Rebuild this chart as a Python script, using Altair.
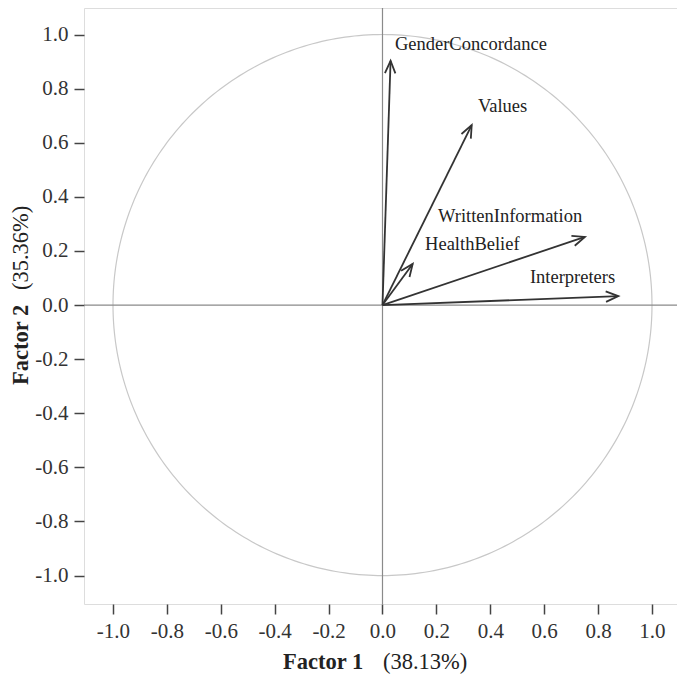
import altair as alt
import pandas as pd
import numpy as np

# Loadings (factor 1, factor 2)
variables = ["GenderConcordance", "Values", "WrittenInformation", "HealthBelief", "Interpreters"]
f1 = [0.030, 0.331, 0.751, 0.112, 0.875]
f2 = [0.903, 0.665, 0.252, 0.152, 0.033]
# label anchor positions (left edge, vertical middle) in factor units
label_x = [0.046, 0.354, 0.206, 0.158, 0.547]
label_y = [0.965, 0.736, 0.329, 0.225, 0.104]

ticks = [-1.0, -0.8, -0.6, -0.4, -0.2, 0.0, 0.2, 0.4, 0.6, 0.8, 1.0]
x_title_bold, x_title_rest = "Factor 1", "(38.13%)"
y_title_bold, y_title_rest = "Factor 2", "(35.36%)"

xdom = [-1.1076, 1.0928]
ydom = [-1.105, 1.098]
W, H = 593, 596
FONT = "Liberation Serif"

arrows = pd.DataFrame({"var": variables, "f1": f1, "f2": f2,
                       "x0": [0.0] * 5, "y0": [0.0] * 5})
arrows["angle"] = (90 - np.degrees(np.arctan2(arrows["f2"], arrows["f1"]))) % 360
labels = pd.DataFrame({"var": variables, "lx": label_x, "ly": label_y})

t = np.linspace(0, 2 * np.pi, 361)
circle = pd.DataFrame({"cx": np.cos(t), "cy": np.sin(t), "i": np.arange(361)})

xs = alt.Scale(domain=xdom, nice=False, zero=False)
ys = alt.Scale(domain=ydom, nice=False, zero=False)

lab_expr = "(datum.value < 0 ? '-' : '') + format(abs(datum.value), '.1f')"
xaxis = alt.Axis(values=ticks, labelExpr=lab_expr, title=None, domain=False, grid=False,
                 tickSize=10, tickColor="#444", tickWidth=1.5, labelPadding=6,
                 labelFont=FONT, labelFontSize=21, labelColor="#333")
yaxis = alt.Axis(values=ticks, labelExpr=lab_expr, title=None, domain=False, grid=False,
                 tickSize=10, tickColor="#444", tickWidth=1.5, labelPadding=6,
                 labelFont=FONT, labelFontSize=21, labelColor="#333")

base_circle = alt.Chart(circle).mark_line(color="#c8c8c8", strokeWidth=1.2).encode(
    x=alt.X("cx:Q", scale=xs, axis=xaxis),
    y=alt.Y("cy:Q", scale=ys, axis=yaxis),
    order="i:Q",
)

cross = pd.DataFrame({"v": [0.0]})
vline = alt.Chart(cross).mark_rule(color="#8a8a8a", strokeWidth=1.2).encode(x=alt.X("v:Q", scale=xs))
hline = alt.Chart(cross).mark_rule(color="#8a8a8a", strokeWidth=1.2).encode(y=alt.Y("v:Q", scale=ys))

shafts = alt.Chart(arrows).mark_rule(color="#333", strokeWidth=1.8).encode(
    x=alt.X("x0:Q", scale=xs), y=alt.Y("y0:Q", scale=ys),
    x2="f1:Q", y2="f2:Q",
)
heads = alt.Chart(arrows).mark_point(
    shape="M-0.42,1L0,0L0.42,1", filled=False, color="#333", strokeWidth=1.8,
    size=620, opacity=1,
).encode(
    x=alt.X("f1:Q", scale=xs), y=alt.Y("f2:Q", scale=ys),
    angle=alt.Angle("angle:Q", scale=None),
)

texts = alt.Chart(labels).mark_text(
    align="left", baseline="middle", font=FONT, fontSize=18.5, color="#222"
).encode(
    x=alt.X("lx:Q", scale=xs), y=alt.Y("ly:Q", scale=ys), text="var:N"
)

def tmark(txt, x, y, bold, angle=0):
    return alt.Chart(pd.DataFrame({"t": [txt]})).mark_text(
        align="left", baseline="middle", font=FONT, fontSize=22.5,
        fontWeight="bold" if bold else "normal", color="#222", angle=angle,
    ).encode(x=alt.value(x), y=alt.value(y), text="t:N")

titles = (tmark(x_title_bold, 199, 654, True) + tmark(x_title_rest, 299, 654, False)
          + tmark(y_title_bold, -63, 377, True, 270) + tmark(y_title_rest, -63, 282, False, 270))

chart = alt.layer(base_circle, vline, hline, shafts, heads, texts, titles).properties(
    width=W, height=H,
    autosize=alt.AutoSizeParams(type="none"),
    padding={"left": 76, "top": 0, "right": 0, "bottom": 73},
).configure_view(stroke="#555", strokeWidth=2).configure(background="white")

chart.save("out.html", embed_options={"renderer": "svg", "actions": False})
